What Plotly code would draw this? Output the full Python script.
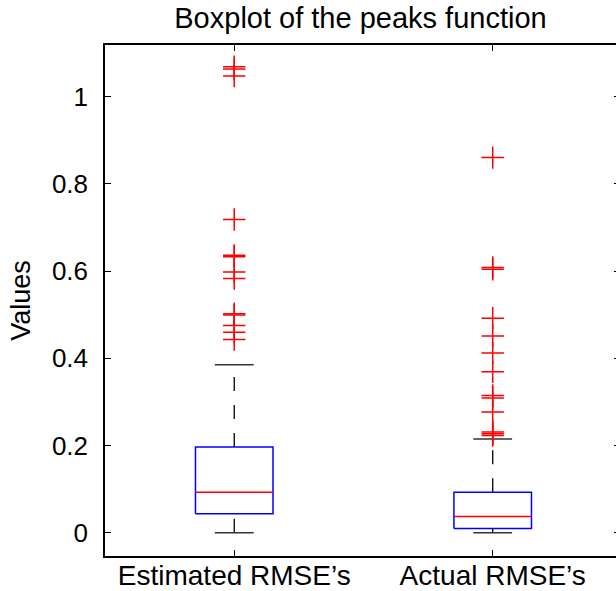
import plotly.graph_objects as go

# ---- data ----
categories = ["Estimated RMSE\u2019s", "Actual RMSE\u2019s"]
positions = [1, 2]
lower_whisker = [0.0, 0.0]
q1 = [0.0436, 0.0100]
median = [0.0932, 0.0375]
q3 = [0.1970, 0.0932]
upper_whisker = [0.3852, 0.2150]
outliers_estimated = [1.068, 1.063, 1.047, 0.718, 0.636, 0.633, 0.598, 0.583,
                      0.502, 0.499, 0.475, 0.460, 0.443]
outliers_actual = [0.860, 0.608, 0.604, 0.492, 0.451, 0.412, 0.369, 0.315,
                   0.309, 0.277, 0.231, 0.227, 0.223]
outliers = [outliers_estimated, outliers_actual]
y_ticks = [0, 0.2, 0.4, 0.6, 0.8, 1]
y_tick_labels = ["0", "0.2", "0.4", "0.6", "0.8", "1"]

BOX_HW = 0.15
CAP_HW = 0.075
FONT = "Liberation Sans, Arial, Helvetica, sans-serif"

fig = go.Figure()
for i, pos in enumerate(positions):
    # whiskers (dashed, drawn from lower to higher value)
    fig.add_trace(go.Scatter(x=[pos, pos], y=[q3[i], upper_whisker[i]], mode="lines",
                             line=dict(color="black", width=1.3, dash="14px,14px"),
                             hoverinfo="skip"))
    fig.add_trace(go.Scatter(x=[pos, pos], y=[lower_whisker[i], q1[i]], mode="lines",
                             line=dict(color="black", width=1.3, dash="14px,14px"),
                             hoverinfo="skip"))
    # caps
    for v in (upper_whisker[i], lower_whisker[i]):
        fig.add_trace(go.Scatter(x=[pos - CAP_HW, pos + CAP_HW], y=[v, v], mode="lines",
                                 line=dict(color="#333333", width=1.5), hoverinfo="skip"))
    # box
    fig.add_trace(go.Scatter(x=[pos - BOX_HW, pos + BOX_HW, pos + BOX_HW, pos - BOX_HW, pos - BOX_HW],
                             y=[q1[i], q1[i], q3[i], q3[i], q1[i]], mode="lines",
                             line=dict(color="#0000FF", width=1.5), hoverinfo="skip"))
    # median
    fig.add_trace(go.Scatter(x=[pos - BOX_HW, pos + BOX_HW], y=[median[i], median[i]], mode="lines",
                             line=dict(color="#FF0000", width=1.5), hoverinfo="skip"))
    # outliers
    fig.add_trace(go.Scatter(x=[pos] * len(outliers[i]), y=outliers[i], mode="markers",
                             marker=dict(symbol="cross-thin", size=16,
                                         line=dict(color="#FF0000", width=1.5)),
                             hoverinfo="skip"))

fig.update_layout(
    width=616, height=591,
    margin=dict(l=105, r=0, t=45, b=35),
    paper_bgcolor="white", plot_bgcolor="white",
    showlegend=False,
    font=dict(family=FONT, color="black"),
    title=dict(text="Boxplot of the peaks function", x=0.5, xref="paper",
               y=1 - 18 / 591, yref="container", yanchor="middle", xanchor="center",
               font=dict(size=29, family=FONT, color="black")),
    xaxis=dict(range=[0.5, 2.477], tickmode="array", tickvals=positions, ticktext=categories,
               ticks="inside", ticklen=6, tickwidth=1, tickcolor="black",
               showline=True, linecolor="black", linewidth=1.5, mirror="ticks",
               showgrid=False, zeroline=False, tickfont=dict(size=28), automargin=False,
               ticklabelstandoff=-6),
    yaxis=dict(range=[-0.053, 1.118], tickmode="array", tickvals=y_ticks, ticktext=y_tick_labels,
               ticks="inside", ticklen=6, tickwidth=1, tickcolor="black",
               showline=True, linecolor="black", linewidth=1.5, mirror=False,
               showgrid=False, zeroline=False, tickfont=dict(size=26),
               ticklabelstandoff=10, automargin=False,
               title=dict(text="Values", font=dict(size=27), standoff=13)),
    yaxis2=dict(range=[-0.053, 1.118], overlaying="y", side="right", tickmode="array",
                tickvals=y_ticks, showticklabels=False, ticks="inside", ticklen=2,
                tickcolor="black", showline=False, showgrid=False, zeroline=False,
                automargin=False),
)
# invisible trace to activate the right-hand axis ticks
fig.add_trace(go.Scatter(x=[positions[0]], y=[median[0]], yaxis="y2", mode="markers",
                         marker=dict(opacity=0), hoverinfo="skip"))

fig.write_html("out.html")
